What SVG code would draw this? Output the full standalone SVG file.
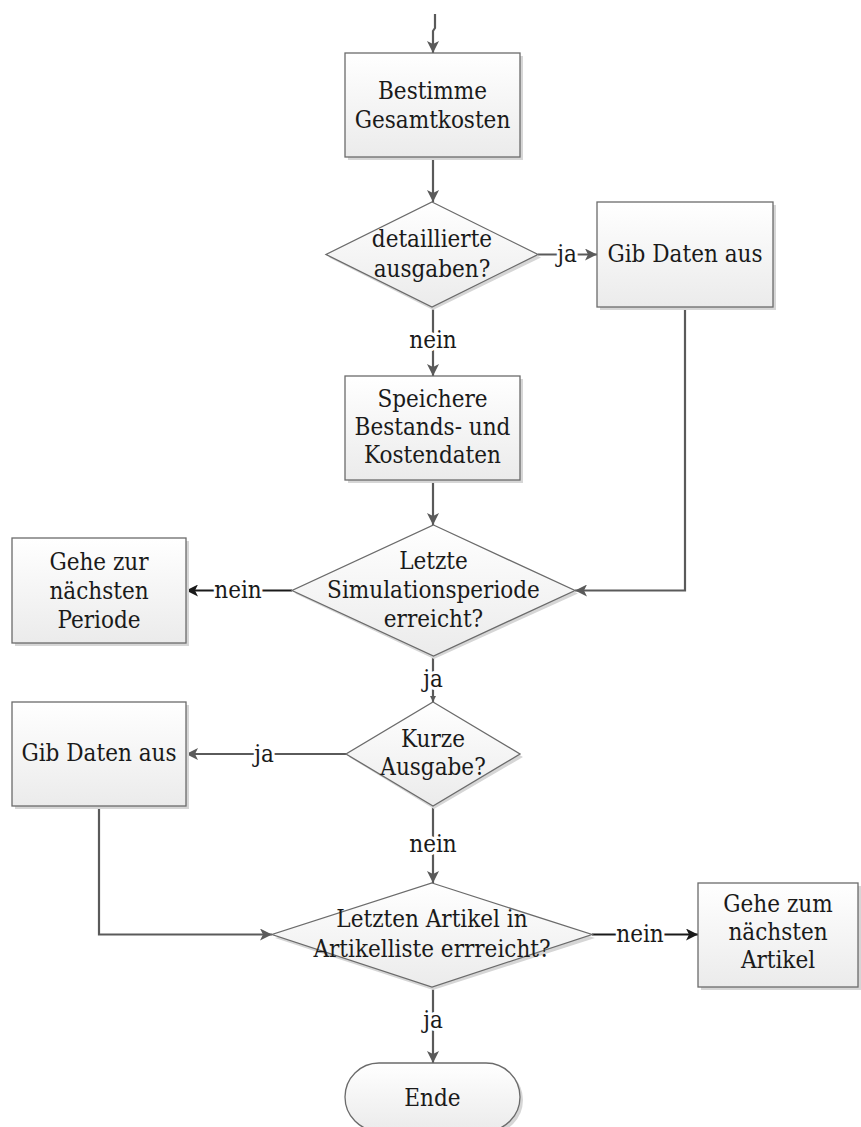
<svg xmlns="http://www.w3.org/2000/svg" width="861" height="1127" viewBox="0 0 861 1127">
<defs>
<linearGradient id="g" x1="0" y1="0" x2="0" y2="1">
<stop offset="0" stop-color="#ffffff"/>
<stop offset="1" stop-color="#ebebeb"/>
</linearGradient>
<marker id="ah" viewBox="0 0 12 12" refX="12" refY="6" markerWidth="12" markerHeight="12" markerUnits="userSpaceOnUse" orient="auto">
<path d="M0,0 L12,6 L0,12 L3,6 Z" fill="#5a5a5a"/>
</marker>
<marker id="ahk" viewBox="0 0 12 12" refX="12" refY="6" markerWidth="12" markerHeight="12" markerUnits="userSpaceOnUse" orient="auto">
<path d="M0,0 L12,6 L0,12 L3,6 Z" fill="#1a1a1a"/>
</marker>
<marker id="ahs" viewBox="0 0 12 12" refX="12" refY="6" markerWidth="6" markerHeight="6" markerUnits="userSpaceOnUse" orient="auto">
<path d="M0,0 L12,6 L0,12 Z" fill="#5a5a5a"/>
</marker>
</defs>
<style>
.shape{fill:url(#g);stroke:#6b6b6b;stroke-width:1.3}
.shadow{fill:#d6d6d6;stroke:none}
.t{font-family:"DejaVu Serif Condensed","DejaVu Serif","Liberation Serif",serif;font-size:24px;fill:#1a1a1a;text-anchor:middle}
.lbl{font-family:"DejaVu Serif Condensed","DejaVu Serif","Liberation Serif",serif;font-size:24px;fill:#1a1a1a;text-anchor:middle;stroke:#fff;stroke-width:6;paint-order:stroke;stroke-linejoin:round}
.c{fill:none;stroke:#5a5a5a;stroke-width:2.2}
.ck{fill:none;stroke:#1a1a1a;stroke-width:2.2}
</style>
<rect width="861" height="1127" fill="#fff"/>

<g id="connectors">
<path class="c" d="M435,14 V28 L433,31 V53" marker-end="url(#ah)"/>
<path class="c" d="M433,157 V202" marker-end="url(#ah)"/>
<path class="c" d="M538,254.5 H597" marker-end="url(#ah)"/>
<path class="c" d="M433,307 V376" marker-end="url(#ah)"/>
<path class="c" d="M433,480 V525" marker-end="url(#ah)"/>
<path class="c" d="M685,307 V590.5 H575" marker-end="url(#ah)"/>
<path class="ck" d="M292,590.5 H186" marker-end="url(#ahk)"/>
<path class="c" d="M433,656 V702" marker-end="url(#ahs)"/>
<path class="c" d="M346,754 H186" marker-end="url(#ah)"/>
<path class="c" d="M433,806 V883" marker-end="url(#ah)"/>
<path class="c" d="M99,806 V934.5 H272" marker-end="url(#ah)"/>
<path class="ck" d="M592,934.5 H698" marker-end="url(#ahk)"/>
<path class="c" d="M433,987 V1063" marker-end="url(#ah)"/>
<text class="lbl" x="567" y="262">ja</text>
<text class="lbl" x="433" y="348">nein</text>
<text class="lbl" x="238" y="598">nein</text>
<text class="lbl" x="433" y="687">ja</text>
<text class="lbl" x="264" y="762">ja</text>
<text class="lbl" x="433" y="852">nein</text>
<text class="lbl" x="640" y="942">nein</text>
<text class="lbl" x="433" y="1028">ja</text>
</g>

<g id="n1">
<rect class="shadow" x="348" y="56" width="175" height="104"/>
<rect class="shape" x="345" y="53" width="175" height="104"/>
<text class="t" x="432.5" y="99">Bestimme</text>
<text class="t" x="432.5" y="128">Gesamtkosten</text>
</g>

<g id="d1">
<polygon class="shadow" points="433,205 541,257.5 433,310 329,257.5"/>
<polygon class="shape" points="432,202 538,254.5 432,307 326,254.5"/>
<text class="t" x="432" y="247">detaillierte</text>
<text class="t" x="432" y="277">ausgaben?</text>
</g>

<g id="n2">
<rect class="shadow" x="600" y="205" width="176" height="105"/>
<rect class="shape" x="597" y="202" width="176" height="105"/>
<text class="t" x="685" y="262">Gib Daten aus</text>
</g>

<g id="n3">
<rect class="shadow" x="348" y="379" width="175" height="104"/>
<rect class="shape" x="345" y="376" width="175" height="104"/>
<text class="t" x="432.5" y="407">Speichere</text>
<text class="t" x="432.5" y="435">Bestands- und</text>
<text class="t" x="432.5" y="463">Kostendaten</text>
</g>

<g id="d2">
<polygon class="shadow" points="434,528 578,593.5 434,659 295,593.5"/>
<polygon class="shape" points="433.5,525 575,590.5 433.5,656 292,590.5"/>
<text class="t" x="433.5" y="569">Letzte</text>
<text class="t" x="433.5" y="598">Simulationsperiode</text>
<text class="t" x="433.5" y="627">erreicht?</text>
</g>

<g id="n4">
<rect class="shadow" x="15" y="541" width="174" height="105"/>
<rect class="shape" x="12" y="538" width="174" height="105"/>
<text class="t" x="99" y="570">Gehe zur</text>
<text class="t" x="99" y="599">nächsten</text>
<text class="t" x="99" y="628">Periode</text>
</g>

<g id="d3">
<polygon class="shadow" points="434,705 523,757 434,809 349,757"/>
<polygon class="shape" points="433,702 520,754 433,806 346,754"/>
<text class="t" x="433" y="747">Kurze</text>
<text class="t" x="433" y="775">Ausgabe?</text>
</g>

<g id="n5">
<rect class="shadow" x="15" y="705" width="174" height="104"/>
<rect class="shape" x="12" y="702" width="174" height="104"/>
<text class="t" x="99" y="761">Gib Daten aus</text>
</g>

<g id="d4">
<polygon class="shadow" points="433,886 595,938 433,990 275,938"/>
<polygon class="shape" points="432,883 592,934.5 432,987 272,934.5"/>
<text class="t" x="432" y="927">Letzten Artikel in</text>
<text class="t" x="432" y="957">Artikelliste errreicht?</text>
</g>

<g id="n6">
<rect class="shadow" x="701" y="886" width="160" height="104"/>
<rect class="shape" x="698" y="883" width="160" height="104"/>
<text class="t" x="778" y="912">Gehe zum</text>
<text class="t" x="778" y="940">nächsten</text>
<text class="t" x="778" y="968">Artikel</text>
</g>

<g id="end">
<rect class="shadow" x="348" y="1066" width="175" height="68" rx="34"/>
<rect class="shape" x="345" y="1063" width="175" height="68" rx="34"/>
<text class="t" x="432.5" y="1106">Ende</text>
</g>
</svg>
